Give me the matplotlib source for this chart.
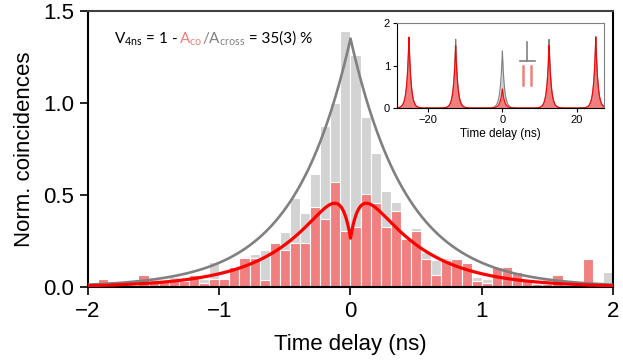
import numpy as np
import matplotlib.pyplot as plt

plt.rcParams['font.family'] = ['Liberation Sans', 'DejaVu Sans']

# histogram, 52 bins between -2 and 2 ns
delay_range = (-2.0, 2.0)
cross_hist = [0.005, 0.03, 0.015, 0.02, 0.01, 0.03, 0.045, 0.035, 0.056, 0.03,
              0.05, 0.042, 0.136, 0.03, 0.09, 0.15, 0.18, 0.20, 0.20, 0.30,
              0.482, 0.404, 0.614, 0.874, 0.998, 1.39, 1.26, 0.926, 0.73, 0.52,
              0.46, 0.24, 0.32, 0.19, 0.147, 0.16, 0.13, 0.12, 0.055, 0.045,
              0.05, 0.05, 0.05, 0.03, 0.01, 0.042, 0.03, 0.005, 0.005, 0.03,
              0.005, 0.084]
co_hist = [0.005, 0.042, 0.02, 0.02, 0.01, 0.063, 0.028, 0.04, 0.033, 0.035,
           0.063, 0.022, 0.045, 0.042, 0.107, 0.16, 0.16, 0.04, 0.237, 0.20,
           0.237, 0.237, 0.436, 0.368, 0.569, 0.306, 0.328, 0.505, 0.458, 0.326,
           0.414, 0.262, 0.304, 0.15, 0.065, 0.145, 0.15, 0.13, 0.03, 0.02,
           0.11, 0.107, 0.084, 0.04, 0.015, 0.015, 0.064, 0.005, 0.005, 0.152,
           0.005, 0.02]

# fit parameters (two sided exponential, co with a dip at zero delay)
tau_fit = 0.43
cross_amp = 1.35
co_amp = 0.737
co_dip_depth = 0.64
co_dip_tau = 0.096

# inset: long time scale, peaks every 12.5 ns
tau_inset = 0.55
peak_pos = [-25.0, -12.5, 0.0, 12.5, 25.0]
peak_cross = [1.68, 1.62, 1.35, 1.62, 1.68]
peak_co = [1.68, 1.47, 0.45, 1.48, 1.68]

n = len(cross_hist)
edges = np.linspace(delay_range[0], delay_range[1], n + 1)
centers = 0.5 * (edges[1:] + edges[:-1])
w = edges[1] - edges[0]

t = np.linspace(-2, 2, 2001)
gray_fit = cross_amp * np.exp(-np.abs(t) / tau_fit)
red_fit = co_amp * np.exp(-np.abs(t) / tau_fit) * (1 - co_dip_depth * np.exp(-np.abs(t) / co_dip_tau))

fig = plt.figure(figsize=(6.23, 3.63), dpi=100)
ax = fig.add_axes([88 / 623, 1 - 287 / 363, 525 / 623, 276 / 363])

ax.bar(centers, cross_hist, width=w, color='lightgray', edgecolor='white', linewidth=0.8, zorder=1)
ax.bar(centers, co_hist, width=w, color='lightcoral', edgecolor='white', linewidth=0.8, zorder=2)
ax.plot(t, gray_fit, color='gray', lw=1.9, zorder=3)
ax.plot(t, red_fit, color='red', lw=2.3, zorder=4)

ax.set_xlim(-2, 2)
ax.set_ylim(0, 1.5)
ax.set_xticks([-2, -1, 0, 1, 2])
ax.set_yticks([0, 0.5, 1.0, 1.5])
ax.set_yticklabels(['0.0', '0.5', '1.0', '1.5'])
ax.tick_params(direction='out', length=6, width=1.2, labelsize=16, pad=4)
for s in ax.spines.values():
    s.set_linewidth(1.5)
ax.spines['top'].set_color('#404040')
ax.set_xlabel('Time delay (ns)', fontsize=16, labelpad=9)
ax.set_ylabel('Norm. coincidences', fontsize=16, labelpad=6)

# visibility annotation, pieces in different colours
pieces = [(r'V$_{\mathregular{4ns}}$ = 1 - ', 'black'),
          (r'A$_{\mathregular{co}}$', 'lightcoral'),
          (r'/A$_{\mathregular{cross}}$', 'gray'),
          (' = 35(3) %', 'black')]
fig.canvas.draw()
x0 = 114
for txt, col in pieces:
    tx = ax.text(x0, 363 - 43, txt, color=col, fontsize=11, family=['Lato', 'DejaVu Sans'],
                 transform=None, va='baseline', ha='left')
    fig.canvas.draw()
    x0 = tx.get_window_extent().x1

# inset
ins = fig.add_axes([397 / 623, 1 - 108 / 363, 207 / 623, 85 / 363])
tt = np.linspace(-28.2, 27.2, 6000)
g_in = np.zeros_like(tt)
r_in = np.zeros_like(tt)
for p, hg, hr in zip(peak_pos, peak_cross, peak_co):
    g_in += hg * np.exp(-np.abs(tt - p) / tau_inset)
    r_in += hr * np.exp(-np.abs(tt - p) / tau_inset)
ins.fill_between(tt, 0, g_in, color='lightgray', lw=0)
ins.plot(tt, g_in, color='gray', lw=0.8)
ins.fill_between(tt, 0, r_in, color='lightcoral', lw=0)
ins.plot(tt, r_in, color='red', lw=0.8)
ins.set_xlim(-28.2, 27.2)
ins.set_ylim(0, 2)
ins.set_xticks([-20, 0, 20])
ins.set_yticks([0, 1, 2])
ins.tick_params(direction='out', length=3, width=0.8, labelsize=8, pad=2)
ins.spines['top'].set_color('gray')
ins.spines['right'].set_color('gray')
for s in ins.spines.values():
    s.set_linewidth(0.8)
ins.set_xlabel('Time delay (ns)', fontsize=8.5, labelpad=2)

# polarisation symbols: perpendicular (gray) and parallel (red)
ins.plot([0.63, 0.63], [0.553, 0.776], color='gray', lw=1.2, transform=ins.transAxes)
ins.plot([0.594, 0.667], [0.553, 0.553], color='gray', lw=1.2, transform=ins.transAxes)
ins.plot([0.608, 0.608], [0.27, 0.494], color='lightcoral', lw=1.8, transform=ins.transAxes)
ins.plot([0.647, 0.647], [0.27, 0.494], color='lightcoral', lw=1.8, transform=ins.transAxes)

fig.savefig('out.png', dpi=100)
